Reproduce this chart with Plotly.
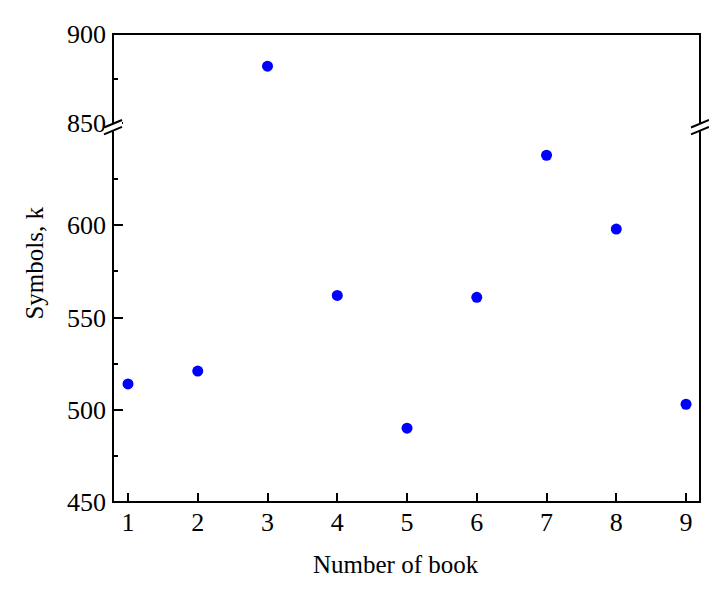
import plotly.graph_objects as go

# number of book vs. symbols (thousands)
books = [1, 2, 3, 4, 5, 6, 7, 8, 9]
symbols = [514, 521, 882, 562, 490, 561, 638, 598, 503]

lower_ticks = [450, 500, 550, 600]
upper_ticks = [850, 900]

# page body has an 8px margin, so the figure is drawn 8px in from the window edge
OFF = 8
W, H = 717 - OFF, 591 - OFF
L, T = 113 - OFF, 27 - OFF
R, B = W - (700 - OFF), H - (502 - OFF)
pw, ph = W - L - R, H - T - B
split = 0.8008  # where the y axis is broken (paper units)

FONT = "Liberation Serif"

def px_x(dx):
    return dx / pw

def px_y(dy):
    return dy / ph

# split points between the two y ranges
lo_x = [b for b, s in zip(books, symbols) if s < 700]
lo_y = [s for s in symbols if s < 700]
hi_x = [b for b, s in zip(books, symbols) if s >= 700]
hi_y = [s for s in symbols if s >= 700]

fig = go.Figure()
marker = dict(color="#0000ff", size=11)
fig.add_trace(go.Scatter(x=lo_x, y=lo_y, mode="markers", marker=marker, yaxis="y"))
fig.add_trace(go.Scatter(x=hi_x, y=hi_y, mode="markers", marker=marker, yaxis="y2"))

tick_font = dict(family=FONT, size=26, color="black")
common_y = dict(ticks="inside", ticklen=10, tickwidth=2, tickcolor="black",
                showgrid=False, zeroline=False, showline=False, tickfont=tick_font,
                ticklabelstandoff=6)

fig.update_layout(
    width=W, height=H,
    margin=dict(l=L, r=R, t=T, b=B),
    paper_bgcolor="white", plot_bgcolor="white",
    showlegend=False,
    xaxis=dict(range=[0.785, 9.2], tickvals=books, ticks="inside", ticklen=9,
               tickwidth=2, tickcolor="black", showgrid=False, zeroline=False,
               showline=False, tickfont=tick_font, anchor="y", ticklabelstandoff=2),
    yaxis=dict(domain=[0, split], range=[450, 653.2], tickvals=lower_ticks,
               minor=dict(tickvals=[475, 525, 575, 625], ticks="inside", ticklen=5,
                          tickwidth=2, tickcolor="black"),
               **common_y),
    yaxis2=dict(domain=[split, 1], range=[847.8, 900], tickvals=upper_ticks,
                minor=dict(tickvals=[875], ticks="inside", ticklen=5,
                           tickwidth=2, tickcolor="black"),
                anchor="x", **common_y),
)

# frame
fig.add_shape(type="rect", xref="paper", yref="paper", x0=0, x1=1, y0=0, y1=1,
              line=dict(color="black", width=2), layer="above")

# break marks on both sides
for xc in (0, 1):
    x0, x1 = xc - px_x(9), xc + px_x(9)
    slope = px_y(3.8)
    y_top = split + px_y(3.5)
    y_bot = split - px_y(3.5)
    fig.add_shape(type="path", xref="paper", yref="paper",
                  path=(f"M {x0},{y_bot - slope} L {x1},{y_bot + slope} "
                        f"L {x1},{y_top + slope} L {x0},{y_top - slope} Z"),
                  fillcolor="white", line=dict(width=0), layer="above")
    for yy in (y_bot, y_top):
        fig.add_shape(type="line", xref="paper", yref="paper",
                      x0=x0, x1=x1, y0=yy - slope, y1=yy + slope,
                      line=dict(color="black", width=2), layer="above")

title_font = dict(family=FONT, size=25, color="black")
fig.add_annotation(text="Number of book", xref="paper", yref="paper",
                   x=px_x(396 - 113), y=-px_y(565 - 502), showarrow=False,
                   xanchor="center", yanchor="middle", font=title_font)
fig.add_annotation(text="Symbols, k", xref="paper", yref="paper",
                   x=-px_x(113 - 35), y=px_y(502 - 260), showarrow=False,
                   textangle=-90, xanchor="center", yanchor="middle", font=title_font)

fig.write_html("out.html")
